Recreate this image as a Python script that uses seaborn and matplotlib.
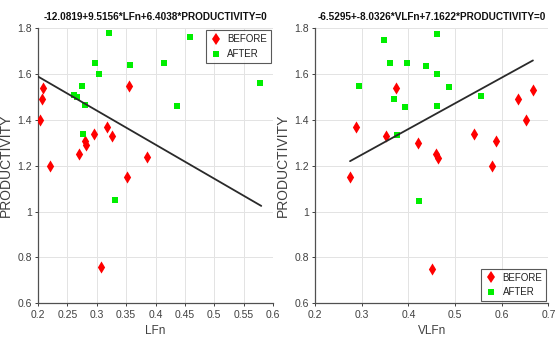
import matplotlib
matplotlib.use("Agg")
import matplotlib.pyplot as plt
import seaborn as sns
import pandas as pd
import numpy as np
from matplotlib.lines import Line2D
from matplotlib.ticker import FuncFormatter

# ---- data ----
lf_before = [0.203, 0.208, 0.207, 0.220, 0.270, 0.280, 0.281, 0.296, 0.318, 0.326, 0.355, 0.386, 0.352, 0.308]
prod_lf_before = [1.40, 1.54, 1.49, 1.20, 1.25, 1.31, 1.29, 1.34, 1.37, 1.33, 1.55, 1.24, 1.15, 0.76]
lf_after = [0.320, 0.459, 0.297, 0.303, 0.357, 0.415, 0.275, 0.261, 0.267, 0.280, 0.436, 0.578, 0.276, 0.331]
prod_lf_after = [1.78, 1.76, 1.65, 1.60, 1.64, 1.65, 1.55, 1.51, 1.50, 1.465, 1.46, 1.56, 1.34, 1.05]

vlf_before = [0.276, 0.288, 0.352, 0.374, 0.421, 0.460, 0.463, 0.540, 0.587, 0.580, 0.635, 0.653, 0.667, 0.450]
prod_vlf_before = [1.15, 1.37, 1.33, 1.54, 1.30, 1.25, 1.235, 1.34, 1.31, 1.20, 1.49, 1.40, 1.53, 0.75]
vlf_after = [0.348, 0.462, 0.361, 0.397, 0.438, 0.462, 0.295, 0.487, 0.369, 0.556, 0.393, 0.462, 0.376, 0.423]
prod_vlf_after = [1.75, 1.775, 1.65, 1.65, 1.634, 1.60, 1.55, 1.545, 1.49, 1.505, 1.455, 1.46, 1.335, 1.045]

# decision-line coefficients (c0 + c1*x + c2*P = 0) and x ranges
lf_coef = [-12.0819, 9.5156, 6.4038]
lf_range = [0.2, 0.58]
vlf_coef = [-6.5295, -8.0326, 7.1622]
vlf_range = [0.275, 0.667]

titles = ["-12.0819+9.5156*LFn+6.4038*PRODUCTIVITY=0",
          "-6.5295+-8.0326*VLFn+7.1622*PRODUCTIVITY=0"]
xlabels = ["LFn", "VLFn"]
groups = ["BEFORE", "AFTER"]

sns.set_theme(style="white")
plt.rcParams['font.family'] = ['Liberation Sans', 'DejaVu Sans']

fig = plt.figure(figsize=(5.55, 3.45), dpi=100)
ax1 = fig.add_axes([0.0685, 0.121, 0.4234, 0.797])
ax2 = fig.add_axes([0.5676, 0.121, 0.4204, 0.797])

palette = {"BEFORE": "#ff0000", "AFTER": "#00ee00"}
markers = {"BEFORE": "d", "AFTER": "s"}
sizes = {"BEFORE": 38, "AFTER": 18}

def mk_df(xb, yb, xa, ya):
    return pd.DataFrame({
        "x": list(xb) + list(xa),
        "y": list(yb) + list(ya),
        "g": ["BEFORE"] * len(xb) + ["AFTER"] * len(xa),
    })

dfs = [mk_df(lf_before, prod_lf_before, lf_after, prod_lf_after),
       mk_df(vlf_before, prod_vlf_before, vlf_after, prod_vlf_after)]
coefs = [lf_coef, vlf_coef]
ranges = [lf_range, vlf_range]
xlims = [(0.2, 0.6), (0.2, 0.7)]
xticks = [np.arange(0.2, 0.6001, 0.05), np.arange(0.2, 0.7001, 0.1)]
legend_locs = [(1.0, 1.0, "upper right"), (1.0, 0.0, "lower right")]

def gfmt(v, pos):
    return "%g" % round(v, 4)

for ax, df, c, r, xl, xt, title, xlab, lloc in zip(
        [ax1, ax2], dfs, coefs, ranges, xlims, xticks, titles, xlabels, legend_locs):
    ax.grid(True, color="#e3e3e3", linewidth=0.7)
    ax.set_axisbelow(True)
    for g in groups:
        sub = df[df["g"] == g]
        sns.scatterplot(data=sub, x="x", y="y", ax=ax, color=palette[g],
                        marker=markers[g], s=sizes[g], linewidth=0,
                        legend=False, zorder=3)
    xs = np.array(r)
    ys = -(c[0] + c[1] * xs) / c[2]
    sns.lineplot(x=xs, y=ys, ax=ax, color="#2a2a2a", linewidth=1.3, zorder=4)
    ax.set_xlim(*xl)
    ax.set_ylim(0.6, 1.8)
    ax.set_xticks(xt)
    ax.set_yticks(np.arange(0.6, 1.8001, 0.2))
    ax.xaxis.set_major_formatter(FuncFormatter(gfmt))
    ax.yaxis.set_major_formatter(FuncFormatter(gfmt))
    ax.tick_params(axis="both", labelsize=7.5, colors="#404040", length=2.5,
                   width=0.7, direction="out", pad=2, bottom=True, left=True)
    for s in ["top", "right"]:
        ax.spines[s].set_visible(False)
    for s in ["left", "bottom"]:
        ax.spines[s].set_color("#505050")
        ax.spines[s].set_linewidth(0.9)
    ax.set_title(title, fontsize=7.2, fontweight="bold", color="#111111", pad=6)
    ax.set_xlabel(xlab, fontsize=8.5, color="#404040", labelpad=4)
    ax.set_ylabel("PRODUCTIVITY", fontsize=10, color="#404040", labelpad=3)
    handles = [Line2D([], [], marker=markers[g], color=palette[g], linestyle="none",
                      markersize=6 if g == "BEFORE" else 4.5, markeredgewidth=0)
               for g in groups]
    leg = ax.legend(handles, groups, loc=lloc[2], bbox_to_anchor=(lloc[0], lloc[1]),
                    fontsize=7, frameon=True, fancybox=False, borderpad=0.4,
                    handletextpad=0.6, labelspacing=0.5, handlelength=1.2,
                    borderaxespad=0.2)
    leg.get_frame().set_edgecolor("#303030")
    leg.get_frame().set_linewidth(0.8)
    for t in leg.get_texts():
        t.set_color("#222222")

fig.savefig("out.png", dpi=100)
